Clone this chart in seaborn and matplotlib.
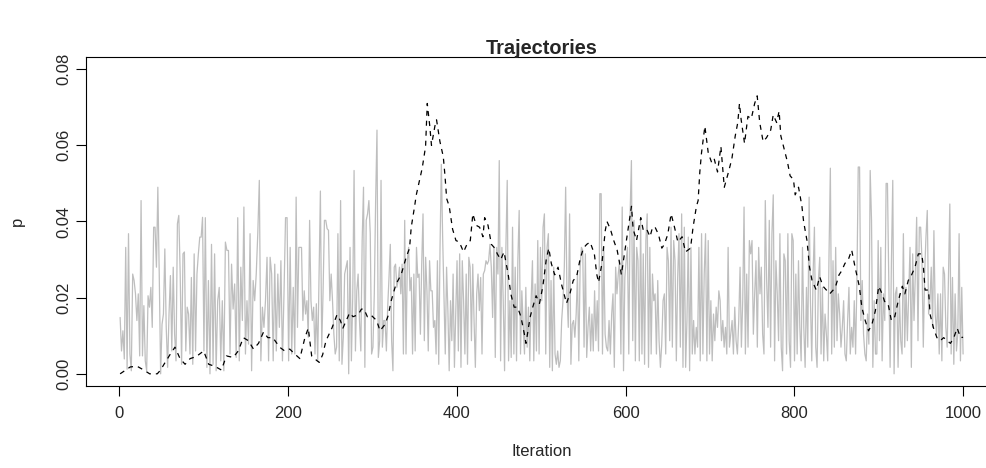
import numpy as np
import pandas as pd
import seaborn as sns
import matplotlib
matplotlib.use("Agg")
import matplotlib.pyplot as plt

# dashed trajectory (iteration, p)
traj_iter = [1, 13, 21, 29, 36, 45, 49, 53, 60, 66, 72, 78, 84, 91, 100, 106, 113, 121, 127, 135,
             141, 147, 153, 159, 165, 171, 176, 182, 190, 196, 202, 209, 214, 220, 224, 228, 234, 237, 241, 245,
             252, 258, 262, 265, 269, 273, 277, 283, 287, 290, 294, 298, 305, 309, 315, 319, 322, 328, 334, 340,
             344, 346, 350, 352, 355, 359, 363, 365, 368, 370, 374, 376, 380, 384, 386, 388, 391, 395, 399, 403,
             408, 412, 416, 419, 423, 427, 431, 433, 437, 441, 445, 448, 452, 456, 461, 464, 468, 472, 476, 480,
             482, 487, 490, 494, 498, 502, 506, 509, 512, 516, 520, 524, 530, 534, 538, 542, 546, 550, 554, 558,
             563, 566, 568, 572, 576, 578, 582, 586, 590, 593, 595, 599, 603, 607, 609, 613, 618, 621, 625, 629,
             632, 635, 639, 643, 646, 650, 654, 658, 662, 667, 671, 677, 680, 684, 686, 688, 690, 694, 698, 702,
             705, 709, 713, 717, 722, 726, 730, 733, 735, 737, 741, 745, 749, 753, 756, 759, 763, 767, 772, 775,
             779, 782, 784, 788, 792, 795, 799, 801, 805, 809, 811, 815, 818, 821, 826, 830, 834, 838, 842, 846,
             849, 853, 856, 860, 864, 868, 872, 877, 880, 884, 888, 892, 896, 900, 904, 907, 911, 915, 919, 923,
             928, 931, 935, 939, 943, 947, 951, 953, 955, 959, 961, 965, 969, 973, 977, 981, 985, 989, 993, 997,
             1000]
traj_p = [0.0, 0.0018, 0.002, 0.001, 0.0, 0.0, 0.001, 0.0025, 0.005, 0.007, 0.004, 0.0025, 0.004, 0.0045, 0.006,
          0.0025, 0.002, 0.001, 0.0047, 0.0043,
          0.006, 0.0095, 0.0087, 0.0065, 0.008, 0.011, 0.0095, 0.0095, 0.007, 0.006, 0.0065, 0.005, 0.004, 0.0095,
          0.012, 0.0047, 0.0035, 0.003, 0.005, 0.0087,
          0.012, 0.0155, 0.014, 0.012, 0.014, 0.016, 0.015, 0.0155, 0.017, 0.017, 0.015, 0.0155, 0.014, 0.0113,
          0.013, 0.0155, 0.019, 0.0236, 0.026, 0.0306,
          0.033, 0.0385, 0.044, 0.047, 0.05, 0.054, 0.0597, 0.071, 0.065, 0.06, 0.065, 0.0667, 0.061, 0.057,
          0.052, 0.046, 0.044, 0.038, 0.035, 0.0346,
          0.032, 0.034, 0.035, 0.042, 0.039, 0.0385, 0.036, 0.041, 0.039, 0.034, 0.033, 0.0315, 0.03, 0.032,
          0.026, 0.021, 0.0175, 0.0175, 0.015, 0.0105,
          0.008, 0.015, 0.0175, 0.0205, 0.0185, 0.023, 0.03, 0.033, 0.029, 0.026, 0.028, 0.0236, 0.0185, 0.021,
          0.0245, 0.0255, 0.03, 0.033, 0.034, 0.0346,
          0.0315, 0.026, 0.024, 0.029, 0.0377, 0.04, 0.038, 0.035, 0.0325, 0.029, 0.026, 0.032, 0.038, 0.044,
          0.038, 0.035, 0.041, 0.0377, 0.038, 0.036,
          0.0385, 0.0385, 0.0366, 0.033, 0.034, 0.0366, 0.042, 0.0385, 0.0346, 0.036, 0.032, 0.033, 0.0385,
          0.044, 0.0455, 0.053, 0.058, 0.065, 0.058, 0.0555,
          0.0565, 0.053, 0.0597, 0.049, 0.053, 0.0565, 0.0625, 0.066, 0.071, 0.0667, 0.0605, 0.0676, 0.067,
          0.071, 0.073, 0.066, 0.061, 0.062, 0.064, 0.068,
          0.066, 0.069, 0.0625, 0.059, 0.0555, 0.052, 0.051, 0.047, 0.049, 0.044, 0.04, 0.035, 0.028, 0.0245,
          0.022, 0.0255, 0.023, 0.022, 0.021, 0.022,
          0.023, 0.026, 0.027, 0.029, 0.03, 0.0325, 0.028, 0.023, 0.0175, 0.014, 0.0113, 0.013, 0.0165, 0.023,
          0.021, 0.019, 0.0185, 0.014, 0.015, 0.019,
          0.023, 0.021, 0.0245, 0.026, 0.028, 0.0315, 0.0315, 0.028, 0.022, 0.022, 0.0155, 0.012, 0.0095,
          0.0087, 0.0095, 0.0087, 0.008, 0.0095, 0.012, 0.0095,
          0.0096]

# grey proposal trace, read in pieces; each piece spans the given iterations
gray_1 = [0.0148, 0.006, 0.0113, 0.0039, 0.0332, 0.0012, 0.0368, 0.0052, 0.0008, 0.0262, 0.0245, 0.021, 0.014,
          0.021, 0.0047, 0.0455, 0.0047, 0.0179, 0.0034, 0.0008, 0.0205, 0.0175, 0.0227, 0.0122, 0.0385, 0.0385,
          0.028, 0.049, 0.0262, 0.0, 0.013, 0.0157, 0.0328, 0.0122, 0.0017, 0.0157, 0.0258, 0.006, 0.028, 0.0104,
          0.0034, 0.0394, 0.0416, 0.0262, 0.0025, 0.0315, 0.032, 0.006, 0.0175, 0.0157, 0.0052, 0.0253, 0.0025,
          0.0315, 0.006, 0.0262, 0.0315, 0.0359, 0.0359, 0.0411, 0.006]
gray_2 = [0.041, 0.0017, 0.0245, 0.0, 0.034, 0.0025, 0.0315, 0.0008, 0.0192, 0.0227, 0.0034, 0.0192, 0.0008,
          0.0346, 0.0324, 0.0324, 0.0052, 0.0288, 0.017, 0.0236, 0.0043, 0.041, 0.0034, 0.028, 0.014, 0.0438,
          0.0052, 0.0192, 0.0078, 0.0368, 0.0008, 0.0245, 0.0192, 0.0262, 0.0368, 0.0508, 0.0034, 0.0175, 0.0122,
          0.0192, 0.0306, 0.0034, 0.0306, 0.0262, 0.0034, 0.0288, 0.006, 0.0262, 0.0122, 0.0297, 0.0034, 0.021,
          0.041, 0.041, 0.0034, 0.0332, 0.0052, 0.0227]
gray_3 = [0.0052, 0.0464, 0.0122, 0.0332, 0.0332, 0.0332, 0.014, 0.0218, 0.0157, 0.0192, 0.0096, 0.0403, 0.0192,
          0.014, 0.0175, 0.0052, 0.0184, 0.0034, 0.0262, 0.048, 0.007, 0.0218, 0.0403, 0.0403, 0.0381, 0.0377,
          0.0192, 0.0262, 0.0192, 0.0104, 0.0052, 0.007, 0.0368, 0.0034, 0.0455, 0.0025, 0.0096, 0.0262, 0.028,
          0.0297, 0.0, 0.0332, 0.0034, 0.0201, 0.0534, 0.006, 0.0218, 0.0262, 0.014, 0.006, 0.035, 0.049, 0.0017,
          0.0403, 0.042, 0.0455, 0.0368, 0.0052, 0.007, 0.021, 0.0455, 0.064, 0.0043, 0.0087, 0.0508, 0.007, 0.014]
gray_4 = [0.014, 0.006, 0.0175, 0.0253, 0.034, 0.0087, 0.0008, 0.028, 0.0288, 0.0227, 0.0245, 0.028, 0.021,
          0.0288, 0.0052, 0.0403, 0.0052, 0.0297, 0.0332, 0.0218, 0.0253, 0.0052, 0.0262, 0.006, 0.0332, 0.0253,
          0.0262, 0.0104, 0.0288, 0.042, 0.0087, 0.0306, 0.0218, 0.006, 0.0297, 0.0218, 0.0218, 0.0122, 0.014,
          0.0052, 0.0297, 0.0025, 0.0332, 0.055, 0.0359, 0.021, 0.0052, 0.028, 0.0166, 0.0008, 0.0192, 0.0087,
          0.0262, 0.0017, 0.0157, 0.0297, 0.006, 0.0315, 0.0017, 0.0297, 0.0192, 0.0052, 0.0262, 0.0025, 0.0306,
          0.028, 0.0087, 0.0288, 0.014]
gray_5 = [0.0017, 0.021, 0.0262, 0.0166, 0.0253, 0.0052, 0.0262, 0.0271, 0.0297, 0.0288, 0.0297, 0.034, 0.028,
          0.0148, 0.0332, 0.0043, 0.0332, 0.0262, 0.056, 0.0034, 0.0332, 0.0192, 0.0008, 0.0332, 0.0508, 0.0034,
          0.0192, 0.0043, 0.0385, 0.0052, 0.028, 0.0034, 0.0297, 0.0429, 0.0052, 0.0218, 0.013, 0.0052, 0.0227,
          0.007, 0.0175, 0.0034, 0.0192, 0.0297, 0.0034, 0.0236, 0.006, 0.035, 0.0052, 0.0332, 0.0192, 0.0385,
          0.042, 0.0052, 0.0332, 0.0368, 0.0017, 0.0245, 0.0008, 0.028, 0.0052, 0.0025, 0.006, 0.0017, 0.0034,
          0.014, 0.0192, 0.028]
gray_6 = [0.049, 0.021, 0.0122, 0.042, 0.0025, 0.013, 0.014, 0.0096, 0.0157, 0.0262, 0.0034, 0.028, 0.0332,
          0.0324, 0.007, 0.0315, 0.0043, 0.0122, 0.0175, 0.006, 0.0157, 0.006, 0.0218, 0.0087, 0.0192, 0.006,
          0.0473, 0.0473, 0.0052, 0.0332, 0.0104, 0.007, 0.006, 0.014, 0.0052, 0.0157, 0.021, 0.0017, 0.028, 0.021,
          0.0262, 0.0297, 0.0052, 0.0438, 0.0008, 0.0253, 0.0297, 0.0332, 0.0052, 0.042, 0.056, 0.0087, 0.0403,
          0.0034, 0.0332, 0.0297, 0.0034, 0.0403, 0.0052, 0.0315, 0.0025, 0.035, 0.042, 0.0017, 0.0332, 0.0052,
          0.0262, 0.0192]
gray_7 = [0.021, 0.0052, 0.0245, 0.0087, 0.0017, 0.0078, 0.0192, 0.021, 0.0052, 0.0332, 0.0297, 0.0087, 0.0385,
          0.007, 0.035, 0.0297, 0.0034, 0.0253, 0.0368, 0.007, 0.042, 0.0017, 0.0385, 0.0017, 0.014, 0.0359,
          0.0008, 0.0332, 0.0052, 0.014, 0.0052, 0.0122, 0.007, 0.0332, 0.0034, 0.0368, 0.0052, 0.0262, 0.0368,
          0.0034, 0.035, 0.0052, 0.0192, 0.0034, 0.0157, 0.0087, 0.0175, 0.0122, 0.0218, 0.0192, 0.0087, 0.014,
          0.007, 0.0122, 0.0052, 0.0332, 0.007, 0.0104, 0.014, 0.0052, 0.0175, 0.0087, 0.0052, 0.014, 0.028,
          0.007, 0.0192, 0.0438]
gray_8 = [0.0052, 0.0262, 0.007, 0.035, 0.0315, 0.035, 0.0104, 0.021, 0.0297, 0.007, 0.0332, 0.021, 0.028,
          0.0104, 0.0052, 0.0455, 0.0245, 0.0122, 0.0403, 0.007, 0.0368, 0.047, 0.0034, 0.0297, 0.021, 0.0087,
          0.0368, 0.007, 0.0008, 0.0315, 0.0297, 0.0052, 0.0368, 0.0087, 0.0017, 0.0368, 0.035, 0.0034, 0.0262,
          0.0052, 0.0297, 0.0122, 0.0034, 0.0332, 0.0122, 0.0017, 0.0227, 0.007, 0.0464, 0.0192, 0.0034, 0.0262,
          0.0385, 0.007, 0.0017, 0.0245, 0.0306, 0.0052, 0.0227, 0.0034, 0.0157, 0.0104, 0.0034, 0.0315, 0.054,
          0.0052, 0.0297, 0.007]
gray_9 = [0.0332, 0.0087, 0.021, 0.0157, 0.007, 0.0122, 0.0192, 0.0052, 0.0034, 0.014, 0.0227, 0.0052, 0.0122,
          0.007, 0.0192, 0.0052, 0.0245, 0.0543, 0.0543, 0.014, 0.0245, 0.0104, 0.0052, 0.0034, 0.0157, 0.0078,
          0.0534, 0.0403, 0.0017, 0.0192, 0.0052, 0.0052, 0.035, 0.0087, 0.0332, 0.0034, 0.021, 0.014, 0.05, 0.05,
          0.0245, 0.0017, 0.0297, 0.0508, 0.0, 0.021, 0.0227, 0.0017, 0.021, 0.0087, 0.0052, 0.0368, 0.007, 0.0227,
          0.0087, 0.021, 0.0332, 0.0017, 0.0315, 0.014, 0.0262, 0.0411, 0.0087, 0.0385, 0.0385, 0.0297, 0.007,
          0.0262]
gray_10 = [0.0359, 0.0429, 0.0157, 0.0192, 0.028, 0.0122, 0.0376, 0.0157, 0.0104, 0.021, 0.0052, 0.021, 0.0034,
           0.028, 0.0262, 0.0122, 0.007, 0.0262, 0.0446, 0.0052, 0.0253, 0.0025, 0.021, 0.006, 0.0104, 0.0368,
           0.0034, 0.0227, 0.0052]
gray_pieces = [gray_1, gray_2, gray_3, gray_4, gray_5, gray_6, gray_7, gray_8, gray_9, gray_10]
gray_bounds = [1, 102, 208, 315, 422, 529, 635, 742, 849, 956, 1000]


def gray_frame():
    frames = []
    for i, vals in enumerate(gray_pieces):
        last = i == len(gray_pieces) - 1
        it = np.linspace(gray_bounds[i], gray_bounds[i + 1], len(vals), endpoint=last)
        frames.append(pd.DataFrame({"Iteration": it, "p": vals}))
    return pd.concat(frames, ignore_index=True)


sns.set_theme(style="white")
plt.rcParams['font.family'] = ['Liberation Sans', 'DejaVu Sans']
plt.rcParams['axes.linewidth'] = 0.8

fig = plt.figure(figsize=(9.87, 4.68), dpi=100)
# R-style plot region: x range padded by 4% on each side
ax = fig.add_axes([86.4 / 987, 1 - 386 / 468, (996.8 - 86.4) / 987, (386 - 57) / 468])

gray = gray_frame()
traj = pd.DataFrame({"Iteration": traj_iter, "p": traj_p})

sns.lineplot(data=gray, x="Iteration", y="p", color="#BEBEBE", linewidth=0.9, ax=ax)
sns.lineplot(data=traj, x="Iteration", y="p", color="black", linewidth=0.9,
             linestyle=(0, (4, 4)), ax=ax)

ax.set_xlim(-38.96, 1039.96)
ax.set_ylim(-0.0032, 0.0832)
ax.set_xticks([0, 200, 400, 600, 800, 1000])
ax.set_yticks([0.0, 0.02, 0.04, 0.06, 0.08])
ax.set_yticklabels(["0.00", "0.02", "0.04", "0.06", "0.08"])
for s in ax.spines.values():
    s.set_color("black")
    s.set_visible(True)
ax.tick_params(axis="x", direction="out", length=7.2, width=0.8, color="black",
               labelsize=12, pad=7, bottom=True)
ax.tick_params(axis="y", direction="out", length=7.2, width=0.8, color="black",
               labelsize=12, pad=3.5, left=True)
for t in ax.get_yticklabels():
    t.set_rotation(90)
    t.set_va("center")

ax.set_xlabel("Iteration", fontsize=12, labelpad=17)
ax.set_ylabel("p", fontsize=12, labelpad=22.5)
ax.set_title("Trajectories", fontsize=14.4, fontweight="bold", pad=2)

fig.savefig("out.png", dpi=100)
